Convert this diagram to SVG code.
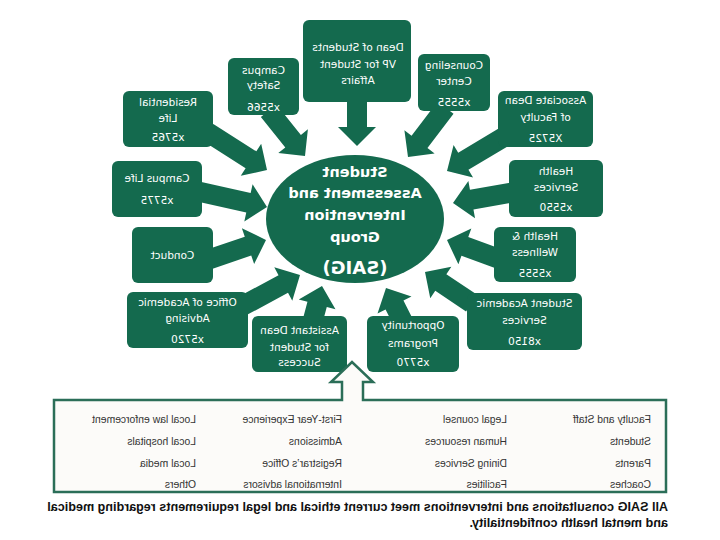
<svg xmlns="http://www.w3.org/2000/svg" width="720" height="540" viewBox="0 0 720 540">
<defs>
<style>
.node rect{fill:#146a4e;}
.node text{fill:#fff;font-family:"DejaVu Sans",Verdana,sans-serif;font-size:10.5px;text-anchor:middle;}
.arr{fill:#146a4e;}
.hub ellipse{fill:#146a4e;}
.hub text{fill:#fff;font-family:"DejaVu Sans",Verdana,sans-serif;font-weight:bold;font-size:14.5px;text-anchor:middle;}
.tbl text{fill:#333;font-family:"Liberation Sans",Arial,sans-serif;font-size:10.4px;}
.cap{fill:#111;font-family:"Liberation Sans",Arial,sans-serif;font-weight:bold;font-size:12.6px;}
</style>
</defs>
<rect width="720" height="540" fill="#fff"/>
<g transform="matrix(-1 0 0 1 720 0)">
<g id="connectors">
<polygon class="arr" transform="translate(363,146) rotate(90)" points="0,0 -19,-19 -19,-10 -50,-10 -50,10 -19,10 -19,19"/>
<polygon class="arr" transform="translate(415,156) rotate(128.8)" points="0,0 -19,-19 -19,-10 -58,-10 -58,10 -19,10 -19,19"/>
<polygon class="arr" transform="translate(312,157) rotate(52.7)" points="0,0 -19,-19 -19,-10 -62,-10 -62,10 -19,10 -19,19"/>
<polygon class="arr" transform="translate(453,170) rotate(147.5)" points="0,0 -19,-19 -19,-10 -70,-10 -70,10 -19,10 -19,19"/>
<polygon class="arr" transform="translate(273,171) rotate(30.8)" points="0,0 -19,-19 -19,-10 -66,-10 -66,10 -19,10 -19,19"/>
<polygon class="arr" transform="translate(453,207) rotate(167.4)" points="0,0 -19,-19 -19,-10 -74,-10 -74,10 -19,10 -19,19"/>
<polygon class="arr" transform="translate(267,203) rotate(10.1)" points="0,0 -19,-19 -19,-10 -62,-10 -62,10 -19,10 -19,19"/>
<polygon class="arr" transform="translate(454,240) rotate(-161.2)" points="0,0 -19,-19 -19,-10 -62,-10 -62,10 -19,10 -19,19"/>
<polygon class="arr" transform="translate(273,240) rotate(-19.9)" points="0,0 -19,-19 -19,-10 -56,-10 -56,10 -19,10 -19,19"/>
<polygon class="arr" transform="translate(420,275) rotate(-151.7)" points="0,0 -19,-19 -19,-10 -65,-10 -65,10 -19,10 -19,19"/>
<polygon class="arr" transform="translate(295,272) rotate(-33.7)" points="0,0 -19,-19 -19,-10 -56,-10 -56,10 -19,10 -19,19"/>
<polygon class="arr" transform="translate(398,286) rotate(-104.9)" points="0,0 -19,-19 -19,-10 -37,-10 -37,10 -19,10 -19,19"/>
<polygon class="arr" transform="translate(334,288) rotate(-63.4)" points="0,0 -19,-19 -19,-10 -37,-10 -37,10 -19,10 -19,19"/>
</g>
<g id="hub" class="hub">
<ellipse cx="365" cy="219" rx="89" ry="64"/>
<text x="365" y="177">Student</text>
<text x="365" y="198">Assessment and</text>
<text x="365" y="220">Intervention</text>
<text x="365" y="242">Group</text>
<text x="365" y="274" style="font-size:18px">(SAIG)</text>
</g>
<g id="dean" class="node"><rect x="309" y="20" width="108" height="82" rx="6"/>
<text x="362" y="51">Dean of Students</text><text x="362" y="68">VP for Student</text><text x="362" y="84">Affairs</text></g>
<g id="safety" class="node"><rect x="421" y="58" width="71" height="57" rx="6"/>
<text x="456.5" y="74">Campus</text><text x="456.5" y="89">Safety</text><text x="456.5" y="111">x5566</text></g>
<g id="counseling" class="node"><rect x="230" y="54" width="72" height="57" rx="6"/>
<text x="266" y="69">Counseling</text><text x="266" y="85">Center</text><text x="266" y="106">x5555</text></g>
<g id="residential" class="node"><rect x="507" y="91" width="90" height="56" rx="6"/>
<text x="552" y="106">Residential</text><text x="552" y="122">Life</text><text x="552" y="141">x5765</text></g>
<g id="assocdean" class="node"><rect x="127" y="91" width="95" height="56" rx="6"/>
<text x="174.5" y="104">Associate Dean</text><text x="174.5" y="121">of Faculty</text><text x="174.5" y="142">X5725</text></g>
<g id="campuslife" class="node"><rect x="518" y="161" width="90" height="56" rx="6"/>
<text x="563" y="182">Campus Life</text><text x="563" y="204">x5775</text></g>
<g id="healthsvc" class="node"><rect x="117" y="160" width="94" height="57" rx="6"/>
<text x="164" y="175">Health</text><text x="164" y="191">Services</text><text x="164" y="211">x5550</text></g>
<g id="conduct" class="node"><rect x="507" y="227" width="81" height="56" rx="6"/>
<text x="547.5" y="259">Conduct</text></g>
<g id="wellness" class="node"><rect x="144" y="227" width="82" height="55" rx="6"/>
<text x="185" y="240">Health &amp;</text><text x="185" y="256">Wellness</text><text x="185" y="277">x5555</text></g>
<g id="advising" class="node"><rect x="472" y="292" width="121" height="56" rx="6"/>
<text x="532.5" y="306">Office of Academic</text><text x="532.5" y="322">Advising</text><text x="532.5" y="343">x5720</text></g>
<g id="sas" class="node"><rect x="138" y="293" width="115" height="57" rx="6"/>
<text x="195.5" y="307">Student Academic</text><text x="195.5" y="324">Services</text><text x="195.5" y="345">x8150</text></g>
<g id="asstdean" class="node"><rect x="373" y="316" width="95" height="56" rx="6"/>
<text x="420.5" y="334">Assistant Dean</text><text x="420.5" y="351">for Student</text><text x="420.5" y="366">Success</text></g>
<g id="opportunity" class="node"><rect x="261" y="316" width="92" height="56" rx="6"/>
<text x="307" y="329">Opportunity</text><text x="307" y="347">Programs</text><text x="307" y="366">x5770</text></g>
<g id="contacts" class="tbl">
<path d="M357,400 L357,382 L347,382 L368,362 L389,382 L378,382 L378,400 L666,400 L666,492 L54,492 L54,400 Z" fill="#fcfbf9" stroke="#2b6e58" stroke-width="2.5" stroke-linejoin="miter"/>
<text x="69" y="423">Faculty and Staff</text>
<text x="69" y="445">Students</text>
<text x="69" y="467">Parents</text>
<text x="69" y="488">Coaches</text>
<text x="213" y="423">Legal counsel</text>
<text x="213" y="445">Human resources</text>
<text x="213" y="467">Dining Services</text>
<text x="213" y="488">Facilities</text>
<text x="378" y="423">First-Year Experience</text>
<text x="378" y="445">Admissions</text>
<text x="378" y="467">Registrar’s  Office</text>
<text x="378" y="488">International advisors</text>
<text x="524" y="423">Local law enforcement</text>
<text x="524" y="445">Local hospitals</text>
<text x="524" y="467">Local media</text>
<text x="524" y="488">Others</text>
</g>
<text class="cap" x="52" y="511">All SAIG consultations and interventions meet current ethical and legal requirements regarding medical</text>
<text class="cap" x="52" y="527">and mental health confidentiality.</text>
</g>
</svg>
